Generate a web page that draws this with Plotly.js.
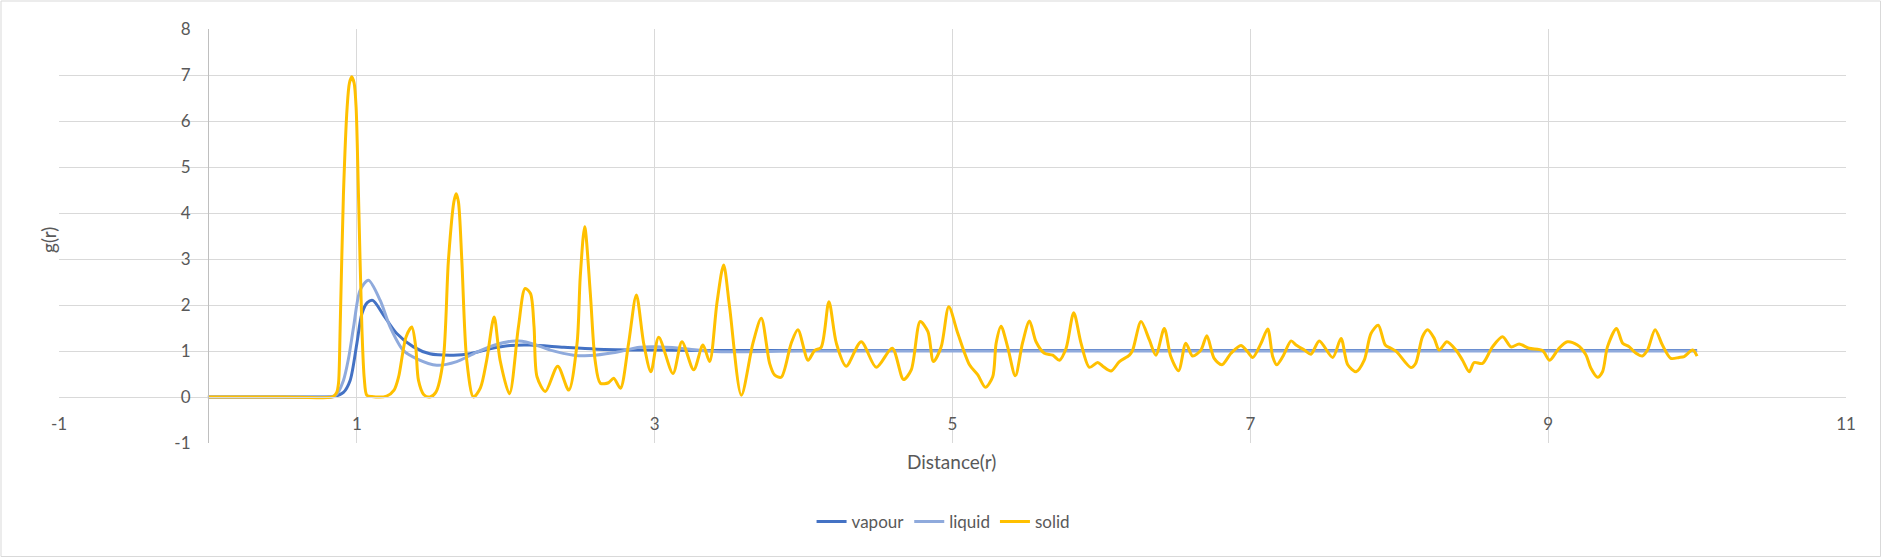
<!DOCTYPE html>
<html>
<head>
<meta charset="utf-8">
<script src="https://cdn.plot.ly/plotly-3.0.1.min.js"></script>
<style>
  html, body { margin: 0; padding: 0; background: #fff; }
  #chart { width: 1882px; height: 558px; }
</style>
</head>
<body>
<div id="chart"></div>
<script>
// values
const vapourX = [0, 0.5, 0.8, 0.85, 0.91, 0.955, 1.0, 1.034, 1.07, 1.107, 1.179, 1.268, 1.38, 1.49, 1.649, 1.76, 1.895, 2.03, 2.163, 2.39, 2.61, 3.0, 3.5, 5, 7, 9, 10];
const vapourY = [0, 0, 0, 0.01, 0.1, 0.36, 1.16, 1.81, 2.05, 2.10, 1.78, 1.38, 1.09, 0.94, 0.91, 0.94, 1.05, 1.12, 1.13, 1.08, 1.04, 1.02, 1.01, 1.01, 1.01, 1.01, 1.01];

const liquidX = [0, 0.5, 0.8, 0.86, 0.91, 0.945, 0.978, 1.022, 1.078, 1.157, 1.224, 1.313, 1.403, 1.537, 1.671, 1.783, 1.917, 2.063, 2.166, 2.3, 2.456, 2.568, 2.72, 2.9, 3.016, 3.17, 3.4, 4, 6, 8, 10];
const liquidY = [0, 0, 0, 0.04, 0.36, 0.85, 1.52, 2.32, 2.54, 2.10, 1.52, 1.01, 0.83, 0.69, 0.77, 0.94, 1.12, 1.22, 1.17, 1.02, 0.91, 0.90, 0.96, 1.08, 1.09, 1.06, 0.99, 1.0, 1.0, 1.0, 1.0];

const solidX = [
  0, 0.5, 0.84, 0.865, 0.877, 0.888, 0.91, 0.935, 0.95, 0.966, 0.982, 0.995, 1.011, 1.034, 1.05, 1.067, 1.1, 1.2,
  1.25, 1.28, 1.33, 1.369, 1.395, 1.414, 1.45, 1.49, 1.53, 1.58, 1.615, 1.652, 1.667, 1.682, 1.705, 1.738, 1.783,
  1.83, 1.872, 1.922, 1.962, 2.025, 2.085, 2.13, 2.166, 2.19, 2.21, 2.266, 2.349, 2.423, 2.479, 2.5,
  2.53, 2.568, 2.6, 2.635, 2.69, 2.725, 2.77, 2.825, 2.877, 2.926, 2.975, 3.027, 3.123, 3.183, 3.262,
  3.324, 3.369, 3.418, 3.463, 3.503, 3.582, 3.66, 3.716, 3.772, 3.805, 3.85, 3.917, 3.962, 4.03, 4.074,
  4.118, 4.17, 4.22, 4.286, 4.387, 4.488, 4.595, 4.671, 4.723, 4.783, 4.835, 4.872, 4.924, 4.975, 5.036,
  5.114, 5.17, 5.221, 5.27, 5.293, 5.326, 5.37, 5.422, 5.47, 5.517, 5.561, 5.617, 5.673, 5.718, 5.763,
  5.814, 5.863, 5.919, 5.975, 6.009, 6.065, 6.121, 6.188, 6.21, 6.266, 6.322, 6.366, 6.422, 6.466, 6.518,
  6.567, 6.612, 6.668, 6.708, 6.757, 6.809, 6.87, 6.937, 6.98, 7.016, 7.072, 7.117, 7.15, 7.177, 7.218,
  7.274, 7.307, 7.363, 7.407, 7.463, 7.553, 7.609, 7.654, 7.71, 7.765, 7.81, 7.859, 7.906, 7.944, 7.98,
  8.078, 8.11, 8.156, 8.19, 8.234, 8.268, 8.32, 8.38, 8.425, 8.47, 8.503, 8.559, 8.626, 8.694, 8.75,
  8.805, 8.872, 8.962, 9.01, 9.073, 9.129, 9.196, 9.253, 9.286, 9.331, 9.365, 9.398, 9.459, 9.5, 9.545,
  9.59, 9.633, 9.667, 9.718, 9.767, 9.823, 9.879, 9.913, 9.97, 10.0
];
const solidY = [
  0, 0, 0.01, 0.1, 0.3, 1.5, 4.4, 6.3, 6.82, 6.96, 6.82, 6.3, 4.4, 1.5, 0.4, 0.04, 0.01, 0.02,
  0.15, 0.43, 1.3, 1.52, 1.1, 0.36, 0.05, 0.0, 0.1, 0.8, 2.97, 4.25, 4.42, 4.25, 2.97, 0.8, 0.0,
  0.2, 0.8, 1.74, 0.8, 0.07, 1.52, 2.36, 2.25, 1.53, 0.44, 0.12, 0.67, 0.15, 1.17, 2.6,
  3.7, 2.25, 0.8, 0.3, 0.31, 0.41, 0.19, 1.17, 2.22, 1.17, 0.55, 1.3, 0.51, 1.2, 0.59,
  1.13, 0.77, 2.04, 2.87, 1.96, 0.04, 1.17, 1.71, 0.73, 0.48, 0.43, 1.17, 1.46, 0.8, 1.01,
  1.08, 2.07, 1.17, 0.67, 1.2, 0.645, 1.06, 0.38, 0.59, 1.64, 1.42, 0.77, 1.09, 1.96, 1.38,
  0.70, 0.48, 0.21, 0.44, 1.17, 1.54, 1.09, 0.46, 1.17, 1.65, 1.2, 0.95, 0.91, 0.80, 1.06,
  1.83, 1.17, 0.645, 0.75, 0.67, 0.565, 0.77, 0.91, 1.02, 1.64, 1.24, 0.91, 1.49, 0.88, 0.57,
  1.17, 0.89, 1.02, 1.33, 0.84, 0.70, 0.95, 1.12, 0.99, 0.86, 1.17, 1.48, 0.88, 0.70, 0.88,
  1.22, 1.13, 1.02, 0.93, 1.22, 0.86, 1.27, 0.70, 0.55, 0.80, 1.38, 1.56, 1.13, 1.06, 0.99,
  0.64, 0.73, 1.31, 1.46, 1.28, 1.02, 1.20, 1.02, 0.80, 0.55, 0.75, 0.73, 1.09, 1.31, 1.09,
  1.15, 1.06, 1.01, 0.80, 1.06, 1.20, 1.13, 0.92, 0.63, 0.43, 0.55, 1.09, 1.49, 1.17, 1.09,
  0.95, 0.89, 1.02, 1.46, 1.13, 0.84, 0.86, 0.88, 1.02, 0.89
];

const xTicks = [-1, 1, 3, 5, 7, 9, 11];
const yTicks = [-1, 0, 1, 2, 3, 4, 5, 6, 7, 8];

const textColor = "#595959";
const font = "Lato, 'Open Sans', sans-serif";

function series(name, x, y, color) {
  return {
    type: "scatter",
    mode: "lines",
    name,
    x,
    y,
    line: { color, width: 3, shape: "spline", smoothing: 0.8 },
    hoverinfo: "x+y+name",
  };
}

const traces = [
  series("vapour", vapourX, vapourY, "#4472C4"),
  series("liquid", liquidX, liquidY, "#8FAADC"),
  series("solid", solidX, solidY, "#FFC000"),
];

const W = 1882, H = 558;
const margin = { l: 59, r: 36, t: 29, b: 115 };
const pw = W - margin.l - margin.r;
const ph = H - margin.t - margin.b;

const layout = {
  width: W,
  height: H,
  margin: Object.assign({ pad: 0 }, margin),
  paper_bgcolor: "#ffffff",
  plot_bgcolor: "#ffffff",
  font: { family: font, color: textColor, size: 17 },
  showlegend: true,
  legend: {
    orientation: "h",
    x: 0.495,
    xanchor: "center",
    y: (margin.t + ph - 522) / ph,
    yanchor: "middle",
    font: { size: 17, color: textColor },
    traceorder: "normal",
  },
  xaxis: {
    range: [-1, 11],
    tickvals: xTicks,
    ticktext: xTicks.map(String),
    anchor: "free",
    position: 1 / 9,
    showgrid: true,
    gridcolor: "#d9d9d9",
    gridwidth: 1,
    zeroline: false,
    showline: true,
    linecolor: "#d9d9d9",
    linewidth: 1,
    ticks: "",
    ticklabelstandoff: 12,
    tickfont: { size: 17, color: textColor },
    fixedrange: true,
  },
  yaxis: {
    range: [-1, 8],
    tickvals: yTicks,
    ticktext: yTicks.map(String),
    anchor: "free",
    position: 1 / 12,
    showgrid: true,
    gridcolor: "#d9d9d9",
    gridwidth: 1,
    zeroline: false,
    showline: true,
    linecolor: "#bfbfbf",
    linewidth: 1,
    ticks: "",
    ticklabelstandoff: 14,
    tickfont: { size: 17, color: textColor },
    fixedrange: true,
  },
  annotations: [
    {
      text: "Distance(r)",
      xref: "paper", yref: "paper",
      x: (951 - margin.l) / pw,
      y: (margin.t + ph - 461) / ph,
      xanchor: "center", yanchor: "middle",
      showarrow: false,
      font: { size: 19, color: textColor },
    },
    {
      text: "g(r)",
      xref: "paper", yref: "paper",
      x: (48 - margin.l) / pw,
      y: (margin.t + ph - 240) / ph,
      xanchor: "center", yanchor: "middle",
      textangle: -90,
      showarrow: false,
      font: { size: 19, color: textColor },
    },
  ],
  shapes: [
    {
      type: "rect",
      xref: "paper", yref: "paper",
      x0: (1 - margin.l) / pw,
      x1: (W - 1.5 - margin.l) / pw,
      y0: (margin.t + ph - (H - 1.5)) / ph,
      y1: (margin.t + ph - 1) / ph,
      line: { color: "#d9d9d9", width: 1 },
      layer: "below",
    },
  ],
};

Plotly.newPlot("chart", traces, layout, { staticPlot: true, displayModeBar: false });
</script>
</body>
</html>
